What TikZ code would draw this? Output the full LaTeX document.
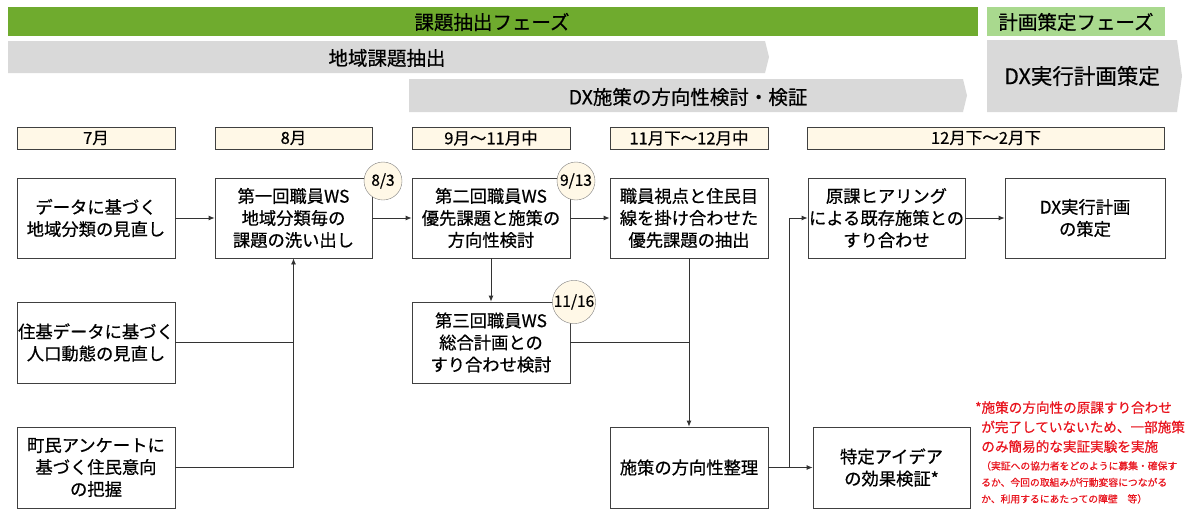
\documentclass[tikz,border=0pt]{standalone}
\usepackage{fontspec}
\setmainfont{Noto Sans CJK JP}[FakeBold=0.6]
\usepackage{xcolor}
\usepackage{tikz}
\usetikzlibrary{positioning,arrows.meta}

\definecolor{phaseGreen}{HTML}{6FAB2E}
\definecolor{phaseLight}{HTML}{A9D98E}
\definecolor{barGray}{HTML}{D9D9D9}
\definecolor{monthFill}{HTML}{FFF8E7}
\definecolor{noteRed}{HTML}{E8141E}

\tikzset{
  task/.style={draw=black!75, line width=0.8pt, fill=white, minimum width=158, minimum height=80,
    align=center, inner sep=1pt, font=\fontsize{17.3}{22}\selectfont},
  month/.style={draw=black!75, line width=0.8pt, fill=monthFill, minimum height=22, inner sep=0pt,
    font=\fontsize{16.5}{18}\selectfont},
  date/.style={draw=black!50, circle, fill=monthFill, minimum size=38, inner sep=0pt,
    font=\fontsize{15.5}{16}\selectfont},
  phase/.style={inner sep=0pt, font=\fontsize{19.5}{22}\selectfont},
  arr/.style={-{Latex[length=6pt,width=5pt]}, line width=0.8pt, black!80},
  link/.style={line width=0.8pt, black!80},
}

\begin{document}
\begin{tikzpicture}[x=1pt, y=-1pt]
            \useasboundingbox (0,0) rectangle (1195,509);

            % Phases
            \fill[phaseGreen] (8,7) rectangle (978,36);
            \fill[phaseLight] (987,7) rectangle (1165,36);
            \fill[barGray] (8,41) -- (765,41) -- (769,57) -- (765,73) -- (8,73) -- cycle;
            \fill[barGray] (409,79) -- (963,79) -- (967,95.5) -- (963,112) -- (409,112) -- cycle;
            \fill[barGray] (987,40) -- (1177,40) -- (1182,76) -- (1177,112) -- (987,112) -- cycle;
            \node[phase] (extract) at (492,22) {課題抽出フェーズ};
            \node[phase] (plan) at (1076,22) {計画策定フェーズ};
            \node[phase] (area) at (387,58) {地域課題抽出};
            \node[phase] (policy) at (688,97) {DX施策の方向性検討・検証};
            \node[phase, font=\fontsize{21.5}{24}\selectfont] (dxplan) at (1082,76) {DX実行計画策定};

            % Months
            \node[month, minimum width=158] (m7) at (96,138) {7月};
            \node[month, minimum width=157] (m8) at (293.5,138) {8月};
            \node[month, minimum width=158] (m9) at (491,138) {9月～11月中};
            \node[month, minimum width=158] (m11) at (689,138) {11月下～12月中};
            \node[month, minimum width=357] (m12) at (986,138) {12月下～2月下};

            % Tasks
            \node[task] (a) at (96,218) {データに基づく\\地域分類の見直し};
            \node[task, minimum width=157] (b) at (293.5,218) {第一回職員WS\\地域分類毎の\\課題の洗い出し};
            \node[task] (c) at (491,218) {第二回職員WS\\優先課題と施策の\\方向性検討};
            \node[task] (d) at (689,218) {職員視点と住民目\\線を掛け合わせた\\優先課題の抽出};
            \node[task, minimum width=157] (e) at (886.5,218) {原課ヒアリング\\による既存施策との\\すり合わせ};
            \node[task, minimum width=160] (f) at (1085,218) {DX実行計画\\の策定};
            \node[task, minimum height=81] (g) at (96,342.5) {住基データに基づく\\人口動態の見直し};
            \node[task, minimum height=81] (h) at (491,342.5) {第三回職員WS\\総合計画との\\すり合わせ検討};
            \node[task, minimum height=81] (i) at (96,467.5) {町民アンケートに\\基づく住民意向\\の把握};
            \node[task, minimum height=81] (j) at (689,467.5) {施策の方向性整理};
            \node[task, minimum width=157, minimum height=81] (k) at (891.5,467.5) {特定アイデア\\の効果検証*};

            % Dates
            \node[date] (d1) at (383,181) {8/3};
            \node[date] (d2) at (576,181) {9/13};
            \node[date] (d3) at (574,302) {11/16};

            % Arrows
            \draw[arr] (a) -- (b);
            \draw[arr] (b) -- (c);
            \draw[arr] (c) -- (d);
            \draw[arr] (e) -- (f);
            \draw[arr] (c) -- (h);
            \draw[link] (g) -- (g -| b);
            \draw[arr] (i) -| (b);
            \draw[link] (h) -- (h -| d);
            \draw[arr] (d) -- (d |- j.north);
            \draw[arr] (j) -- (k);
            \coordinate (split) at (789,467.5);
            \draw[arr] (split) |- (e);

            % Note
            \node[anchor=north west, align=left, inner sep=0pt, text=noteRed,
              font=\fontsize{13.6}{19.5}\selectfont] (note) at (975,401)
              {*施策の方向性の原課すり合わせ\\\hspace*{0.45em}が完了していないため、一部施策\\\hspace*{0.45em}のみ簡易的な実証実験を実施};
            \node[anchor=north west, align=left, inner sep=0pt, text=noteRed,
              font=\fontsize{9.8}{16.5}\selectfont] (detail) at (981,461)
              {（実証への協力者をどのように募集・確保す\\るか、今回の取組みが行動変容につながる\\か、利用するにあたっての障壁　等）};
        \end{tikzpicture}
\end{document}
